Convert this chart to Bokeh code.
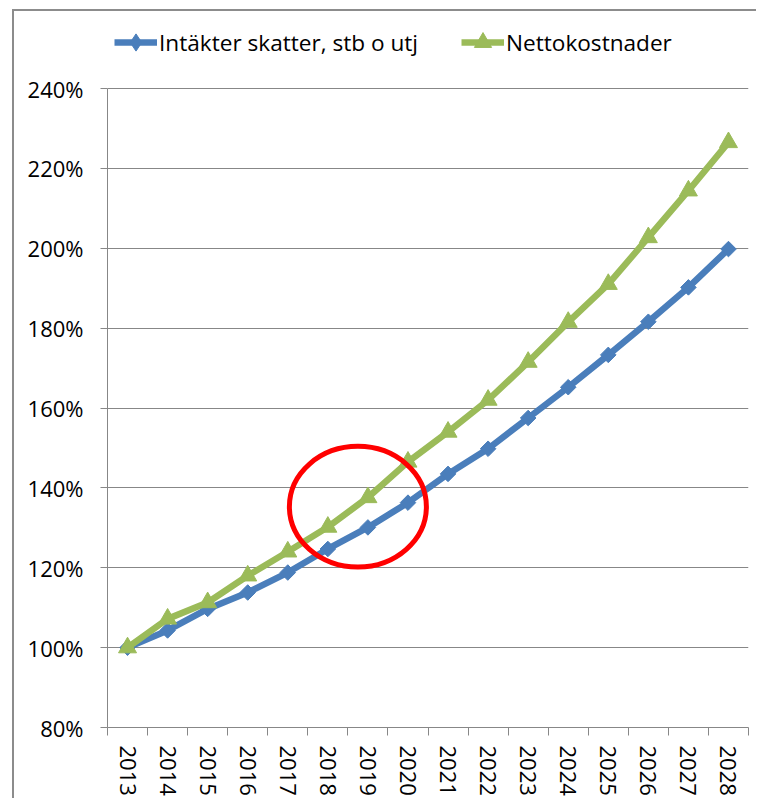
import math
from bokeh.plotting import figure
from bokeh.models import (Range1d, FixedTicker, PrintfTickFormatter, Legend, LegendItem)
from bokeh.embed import file_html
from bokeh.resources import INLINE

years = ["2013", "2014", "2015", "2016", "2017", "2018", "2019", "2020",
         "2021", "2022", "2023", "2024", "2025", "2026", "2027", "2028"]
intakter = [100.0, 104.3, 109.7, 113.8, 118.8, 124.7, 130.1, 136.3,
            143.5, 149.8, 157.5, 165.2, 173.3, 181.6, 190.2, 199.8]
netto = [100.0, 107.2, 111.3, 118.0, 124.0, 130.2, 137.6, 146.5,
         154.0, 162.0, 171.5, 181.5, 191.0, 202.7, 214.4, 226.5]
y_ticks = [80, 100, 120, 140, 160, 180, 200, 220, 240]
series_names = ["Intäkter skatter, stb o utj", "Nettokostnader"]

# highlight ellipse (category-position units, percent units)
ell_x, ell_y, ell_w, ell_h = 6.25, 135.3, 3.42, 30.2

xs = [i + 0.5 for i in range(len(years))]

FONT = "Open Sans"
GRID = "#878787"
BLUE = "#4A7EBB"
GREEN = "#9BBB59"
FRAME = "#8c8c8c"

# the plotting frame reaches up to the top of the chart so the legend fits inside it
y_top = 240 + 88 * 160 / 639

p = figure(frame_width=641, frame_height=727,
           x_range=Range1d(0, len(years)), y_range=Range1d(80, y_top),
           output_backend="svg", toolbar_location=None,
           min_border_left=107, min_border_top=0, min_border_right=8,
           min_border_bottom=10)
p.outline_line_color = None
p.background_fill_alpha = 0
p.border_fill_alpha = 0
# outer chart-area border (left and top), drawn behind the transparent canvas
p.styles = {
    "background-image": f"linear-gradient({FRAME}, {FRAME}), linear-gradient({FRAME}, {FRAME})",
    "background-size": "2px 100%, 100% 2px",
    "background-position": "12px 9px, 12px 9px",
    "background-repeat": "no-repeat",
}

# axes
p.xaxis.ticker = FixedTicker(ticks=xs, minor_ticks=list(range(len(years) + 1)))
p.xaxis.major_label_overrides = {x: y for x, y in zip(xs, years)}
p.xaxis.major_tick_out = 0
p.xaxis.major_tick_in = 0
p.xaxis.minor_tick_out = 8
p.xaxis.minor_tick_in = 0
p.xaxis.minor_tick_line_color = GRID
p.xaxis.major_label_orientation = -math.pi / 2
p.xaxis.major_label_standoff = 10

p.yaxis.ticker = FixedTicker(ticks=y_ticks, minor_ticks=[])
p.yaxis.formatter = PrintfTickFormatter(format="%d%%")
p.yaxis.bounds = (y_ticks[0], y_ticks[-1])
p.yaxis.major_tick_out = 7
p.yaxis.major_tick_in = 0
p.yaxis.minor_tick_out = 0
p.yaxis.minor_tick_in = 0
p.yaxis.major_label_standoff = 17

for ax in (p.xaxis, p.yaxis):
    ax.axis_line_color = GRID
    ax.axis_line_width = 1
    ax.major_tick_line_color = GRID
    ax.major_label_text_font = FONT
    ax.major_label_text_font_size = "22px"
    ax.major_label_text_color = "#000000"

p.xgrid.grid_line_color = None
p.ygrid.grid_line_color = GRID
p.ygrid.grid_line_width = 1
p.ygrid.ticker = FixedTicker(ticks=y_ticks)

# legend marker (diamond) drawn on the first point of the first series, beneath it
lg1 = p.scatter(xs[:1], intakter[:1], marker="diamond", size=15,
                fill_color=BLUE, line_color=BLUE)

# series
l1 = p.line(xs, intakter, line_color=BLUE, line_width=6.5)
m1 = p.scatter(xs, intakter, marker="square", size=11, angle=math.pi / 4,
               fill_color=BLUE, line_color=BLUE)
l2 = p.line(xs, netto, line_color=GREEN, line_width=6.5)
m2 = p.scatter(xs, netto, marker="triangle", size=18,
               fill_color=GREEN, line_color=GREEN)

# red highlight ellipse
p.ellipse(x=[ell_x], y=[ell_y], width=[ell_w], height=[ell_h],
          fill_color=None, line_color="#FF0000", line_width=5)

legend = Legend(items=[LegendItem(label=series_names[0], renderers=[l1, lg1]),
                       LegendItem(label=series_names[1], renderers=[l2, m2])],
                orientation="horizontal", location="top_left",
                glyph_width=43, glyph_height=70, label_height=70,
                label_standoff=2, spacing=43,
                padding=0, margin=7, border_line_color=None,
                background_fill_alpha=0, label_text_font=FONT,
                label_text_font_size="22.6px", label_text_color="#000000")
p.add_layout(legend, "center")

open("out.html", "w").write(file_html(p, INLINE))
